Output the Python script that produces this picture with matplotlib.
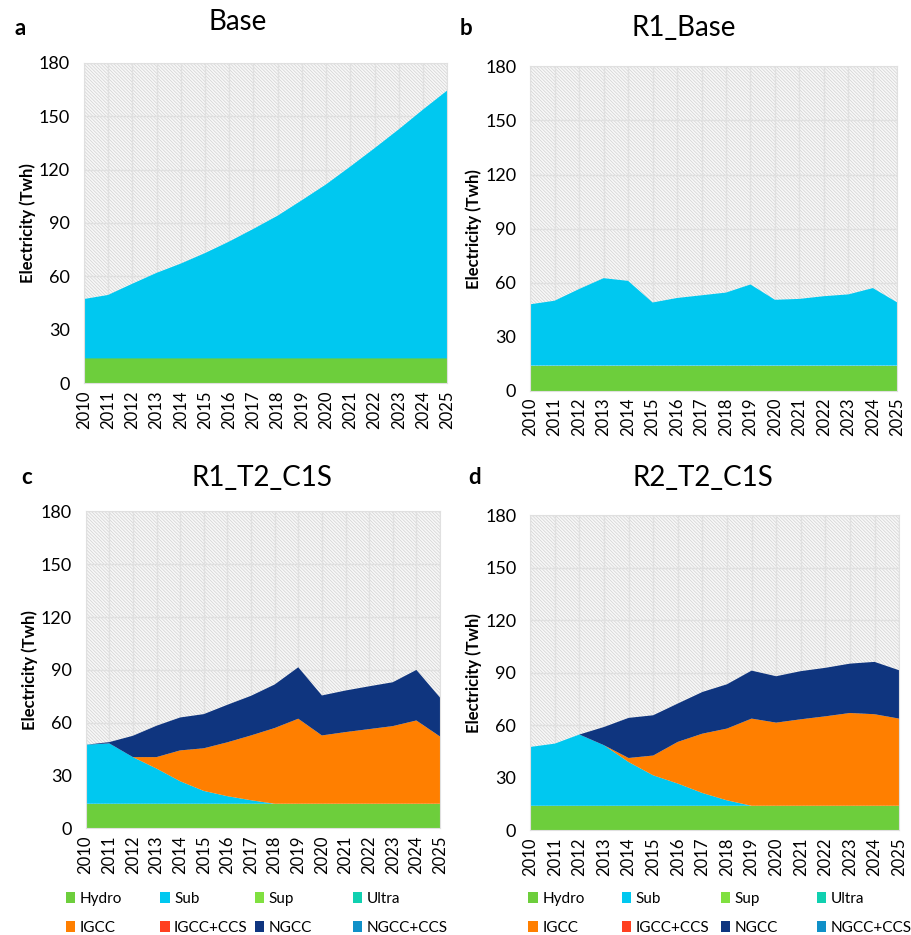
import matplotlib.pyplot as plt
from matplotlib.patches import Rectangle, Patch
import numpy as np

plt.rcParams['font.family'] = ['Lato', 'DejaVu Sans']
plt.rcParams['hatch.linewidth'] = 0.5

# data
years = list(range(2010, 2026))
techs = ['Hydro', 'Sub', 'Sup', 'Ultra', 'IGCC', 'IGCC+CCS', 'NGCC', 'NGCC+CCS']
colors = ['#6dce3c', '#00c8f0', '#80e040', '#10d0b0',
          '#ff7f00', '#ff4020', '#0f357f', '#1090c8']

hydro = [14] * 16

# a: Base
base_sub = [33.3, 35.6, 41.9, 48, 53.2, 59.1, 65.6, 72.7, 80.1, 88.8,
            97.7, 107.7, 118, 128.6, 139.7, 150.4]

# b: R1_Base
r1base_sub = [34, 36, 42.5, 48.5, 47, 35, 37.5, 39, 40.5, 45,
              36.5, 37, 38.5, 39.5, 43, 35]

# c: R1_T2_C1S
c_sub = [33.5, 34.3, 26.5, 20, 12.8, 7.3, 4.3, 2, 0, 0, 0, 0, 0, 0, 0, 0]
c_igcc = [0, 0, 0, 6.5, 17.5, 24.2, 30.6, 36.8, 43, 48.3,
          38.8, 40.7, 42.4, 44.1, 47.3, 38.2]
c_ngcc = [0, 0.7, 12.1, 17.8, 18.7, 19.4, 21.3, 22.5, 24.7, 29.2,
          22.7, 23.6, 24.3, 24.9, 28.7, 22.1]

# d: R2_T2_C1S
d_sub = [33.6, 35.5, 40.7, 34.6, 25, 17.4, 12.7, 7.3, 3.1, 0, 0, 0, 0, 0, 0, 0]
d_igcc = [0, 0, 0, 0, 2.3, 11.3, 23.8, 33.9, 41, 49.8,
          47.5, 49.4, 51.1, 53, 52.3, 49.8]
d_ngcc = [0, 0, 0, 10.4, 22.9, 23, 21.9, 23.8, 25.3, 27.4,
          26.5, 27.5, 27.7, 28.2, 29.9, 27.6]

zeros = [0] * 16
panels = [
    ('a', 'Base', [hydro, base_sub, zeros, zeros, zeros, zeros, zeros, zeros]),
    ('b', 'R1_Base', [hydro, r1base_sub, zeros, zeros, zeros, zeros, zeros, zeros]),
    ('c', 'R1_T2_C1S', [hydro, c_sub, zeros, zeros, c_igcc, zeros, c_ngcc, zeros]),
    ('d', 'R2_T2_C1S', [hydro, d_sub, zeros, zeros, d_igcc, zeros, d_ngcc, zeros]),
]

# axes rectangles (figure fractions)
rects = [
    [0.092, 0.590, 0.399, 0.343],
    [0.582, 0.582, 0.403, 0.347],
    [0.094, 0.114, 0.389, 0.339],
    [0.582, 0.112, 0.405, 0.337],
]
letter_pos = [(0.016, 0.970), (0.505, 0.970), (0.023, 0.489), (0.514, 0.489)]
title_pos = [(0.261, 0.976), (0.750, 0.970), (0.288, 0.489), (0.772, 0.489)]

fig = plt.figure(figsize=(9.11, 9.35), dpi=100)

for (letter, title, series), rect, lp, tp in zip(panels, rects, letter_pos, title_pos):
    ax = fig.add_axes(rect)
    ax.add_patch(Rectangle((0, 0), 1, 1, transform=ax.transAxes,
                           facecolor='#f7f7f7', edgecolor='#d2d2d2',
                           hatch='\\' * 10, linewidth=0, zorder=0))
    ax.stackplot(years, *series, colors=colors, linewidth=0, zorder=2)
    ax.set_xlim(2010, 2025)
    ax.set_ylim(0, 180)
    ax.set_yticks(range(0, 181, 30))
    ax.set_xticks(years)
    ax.set_xticklabels([str(y) for y in years], rotation=90, fontsize=12)
    ax.tick_params(axis='y', labelsize=13, length=0, pad=10)
    ax.tick_params(axis='x', length=0, pad=5)
    ax.grid(True, color='#e0e0e0', linewidth=1, zorder=1)
    ax.set_axisbelow(True)
    for s in ax.spines.values():
        s.set_color('#e0e0e0')
    ax.set_ylabel('Electricity (Twh)', fontsize=12, fontweight='bold', labelpad=2)
    fig.text(lp[0], lp[1], letter, fontsize=16, fontweight='bold', va='center')
    fig.text(tp[0], tp[1], title, fontsize=20, ha='center', va='center')

# legends: one small legend per column, two rows each
handles = [Patch(facecolor=c, edgecolor='none') for c in colors]
col_x = [0.072, 0.176, 0.280, 0.387, 0.580, 0.683, 0.791, 0.897]
for i, x in enumerate(col_x):
    k = i % 4
    fig.legend([handles[k], handles[k + 4]], [techs[k], techs[k + 4]],
               loc='upper left', bbox_to_anchor=(x, 0.046),
               bbox_transform=fig.transFigure, frameon=False, fontsize=11,
               handlelength=0.6, handleheight=0.7, handletextpad=0.3,
               labelspacing=0.95, borderaxespad=0, borderpad=0)

fig.savefig('out.png', dpi=100)
